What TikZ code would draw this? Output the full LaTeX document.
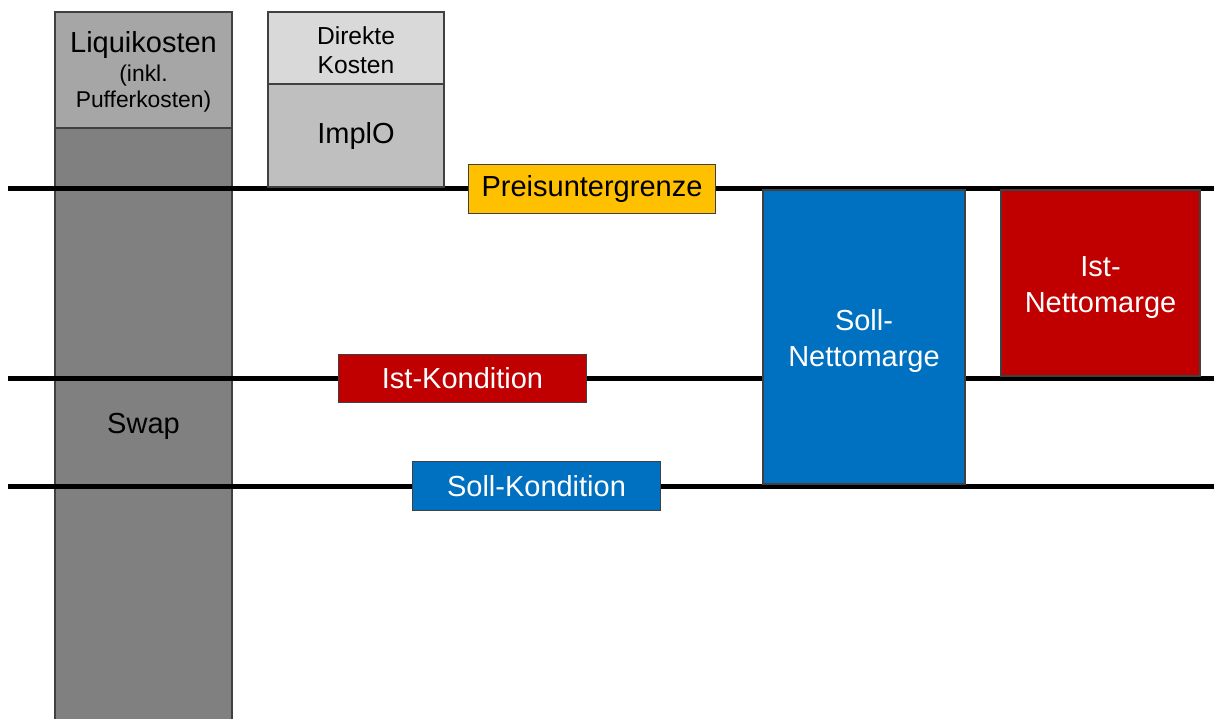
\documentclass[tikz,border=0pt]{standalone}
\usepackage{fontspec}
\setmainfont{Liberation Sans}
\usetikzlibrary{positioning}

\definecolor{liquigray}{HTML}{A6A6A6}
\definecolor{swapgray}{HTML}{808080}
\definecolor{directgray}{HTML}{D9D9D9}
\definecolor{implgray}{HTML}{BFBFBF}
\definecolor{puyellow}{HTML}{FFC000}
\definecolor{istred}{HTML}{C00000}
\definecolor{sollblue}{HTML}{0070C0}

\tikzset{
  block/.style = {draw=black!75, line width=0.6pt, inner sep=0pt,
                  outer sep=0pt, align=center,
                  font=\fontsize{16.5}{20.5}\selectfont},
  label text/.style = {align=center, inner sep=0pt,
                  font=\fontsize{16.5}{20.5}\selectfont},
  level/.style = {line width=1mm},
  tag/.style   = {block, minimum width=49.5mm, minimum height=9.7mm}
}

\begin{document}
\begin{tikzpicture}[x=0.2mm, y=-0.2mm]
	\useasboundingbox (0,0) rectangle (1214,718);

	% Liqui column (behind the levels)
	\node[block, fill=liquigray, minimum width=35.4mm, minimum height=23.2mm,
	      font=\fontsize{13}{14.8}\selectfont] (liqui) at (143.5,70) {};
	\node[label text, font=\fontsize{13}{14.8}\selectfont] (liquitxt) at (143.5,72)
	      {{\fontsize{16.5}{14.8}\selectfont Liquikosten}\\[1.6pt](inkl.\\Pufferkosten)};
	\node[block, fill=swapgray, minimum width=35.4mm, minimum height=120mm,
	      below=0pt of liqui] (swap) {};
	\node[label text] (swaptxt) at (143.5,426) {Swap};

	% Levels
	\coordinate (pug-l) at (8,188);  \coordinate (pug-r) at (1214,188);
	\coordinate (ist-l) at (8,378);  \coordinate (ist-r) at (1214,378);
	\coordinate (soll-l) at (8,486); \coordinate (soll-r) at (1214,486);
	\draw[level] (pug-l) -- (pug-r);
	\draw[level] (ist-l) -- (ist-r);
	\draw[level] (soll-l) -- (soll-r);

	% Direct costs
	\node[block, fill=directgray, minimum width=35.2mm, minimum height=14.4mm,
	      font=\fontsize{14}{16.8}\selectfont] (direkt) at (356,48) {};
	\node[label text, font=\fontsize{14}{16.8}\selectfont] (direkttxt) at (356,50)
	      {Direkte\\Kosten};
	\node[block, fill=implgray, minimum width=35.2mm, minimum height=20.6mm,
	      below=0pt of direkt] (implo) {ImplO};

	% Tags on the levels
	\node[tag, fill=puyellow] (pug) at (592,189) {Preisuntergrenze};
	\node[tag, fill=istred, text=white] (istk) at (462.5,378.5) {Ist-Kondition};
	\node[tag, fill=sollblue, text=white] (sollk) at (536.5,486) {Soll-Kondition};

	% Margins
	\node[block, fill=sollblue, minimum width=40.4mm,
	      minimum height=58.8mm] (sollnm) at (864,337) {};
	\node[label text, text=white] (sollnmtxt) at (864,341) {Soll-\\Nettomarge};
	\node[block, fill=istred, minimum width=39.8mm,
	      minimum height=37.2mm] (istnm) at (1100.5,283) {};
	\node[label text, text=white] (istnmtxt) at (1100.5,288) {Ist-\\Nettomarge};
\end{tikzpicture}
\end{document}
